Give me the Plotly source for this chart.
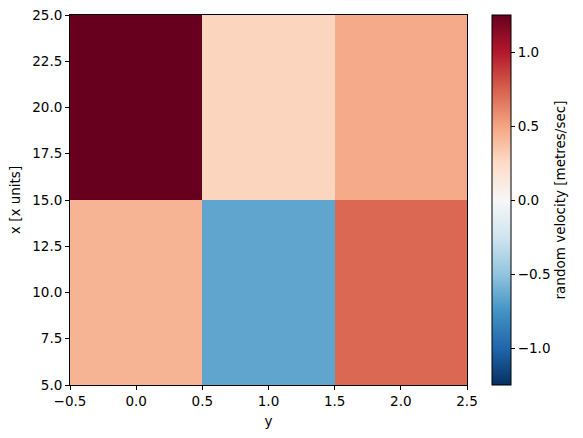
import plotly.graph_objects as go

y_coords = [0, 1, 2]
x_coords = [10, 20]
velocity = [
    [0.43, -0.66, 0.72],
    [1.25, 0.28, 0.47],
]
x_ticks = [5.0, 7.5, 10.0, 12.5, 15.0, 17.5, 20.0, 22.5, 25.0]
y_ticks = [-0.5, 0.0, 0.5, 1.0, 1.5, 2.0, 2.5]
cb_ticks = [-1.0, -0.5, 0.0, 0.5, 1.0]

def fmt(v):
    s = f"{v:.1f}"
    return s.replace("-", "\u2212")

rdbu = ["#053061", "#2166ac", "#4393c3", "#92c5de", "#d1e5f0", "#f7f7f7",
        "#fddbc7", "#f4a582", "#d6604d", "#b2182b", "#67001f"]
colorscale = [[i / 10, c] for i, c in enumerate(rdbu)]

font = dict(family="DejaVu Sans", size=13.5, color="black")

fig = go.Figure(go.Heatmap(
    x=y_coords, y=x_coords, z=velocity,
    colorscale=colorscale, zmin=-1.25, zmax=1.25,
    colorbar=dict(
        thickness=19, len=1, lenmode="fraction", y=0.5, yanchor="middle", ypad=0,
        x=1.063, xref="paper", xanchor="left", xpad=0,
        outlinecolor="black", outlinewidth=1,
        ticks="outside", ticklen=4, tickcolor="black",
        tickvals=cb_ticks, ticktext=[fmt(v) for v in cb_ticks],
        tickfont=font,
        title=dict(text="random velocity [metres/sec]", side="right", font=font),
    ),
))

fig.update_layout(
    width=583, height=438,
    margin=dict(l=70, r=116, t=15, b=53, autoexpand=False),
    paper_bgcolor="white", plot_bgcolor="white",
    font=font,
    xaxis=dict(
        range=[-0.5, 2.5], tickvals=y_ticks, ticktext=[fmt(v) for v in y_ticks],
        ticks="outside", ticklen=4, tickcolor="black",
        showline=True, linecolor="black", linewidth=1, mirror=True,
        showgrid=False, zeroline=False,
        title=dict(text="y", font=font, standoff=8),
    ),
    yaxis=dict(
        range=[5, 25], tickvals=x_ticks, ticktext=[fmt(v) for v in x_ticks],
        ticks="outside", ticklen=4, tickcolor="black",
        showline=True, linecolor="black", linewidth=1, mirror=True,
        showgrid=False, zeroline=False,
        title=dict(text="x [x units]", font=font, standoff=8),
    ),
)

fig.write_html("out.html")
